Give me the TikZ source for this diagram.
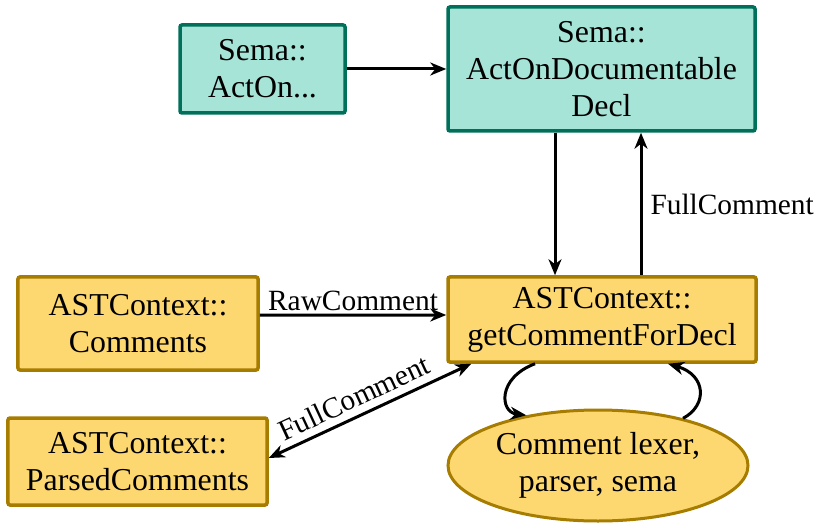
\documentclass[tikz,border=0pt]{standalone}
\usepackage{fontspec}
\setmainfont{Liberation Serif}
\usetikzlibrary{arrows.meta,shapes.geometric}
\definecolor{semafill}{RGB}{166,228,215}
\definecolor{semaedge}{RGB}{0,112,90}
\definecolor{astfill}{RGB}{253,216,112}
\definecolor{astedge}{RGB}{166,125,0}
\tikzset{
  boxtext/.style={font=\fontsize{32}{37}\selectfont, align=center, inner sep=0pt},
  semabox/.style={boxtext, draw=semaedge, fill=semafill, line width=3.5bp, rounded corners=2bp},
  astbox/.style={boxtext, draw=astedge, fill=astfill, line width=3.5bp, rounded corners=2bp},
  astell/.style={boxtext, ellipse, draw=astedge, fill=astfill, line width=3bp},
  tip/.style={Stealth[length=16bp,width=13bp,inset=5bp]},
  arr/.style={line width=3bp, -{Stealth[length=16bp,width=13bp,inset=5bp]}},
  biarr/.style={line width=3bp, {Stealth[length=16bp,width=13bp,inset=5bp]}-{Stealth[length=16bp,width=13bp,inset=5bp]}},
  lbl/.style={font=\fontsize{29.5}{34}\selectfont, inner sep=2bp}
}
\begin{document}
\begin{tikzpicture}[x=1bp,y=-1bp]
\useasboundingbox (0,0) rectangle (825,523);

% Sema side
\node[semabox, minimum width=165bp, minimum height=88bp] (act) at (262.5,69) {Sema::\\ActOn...};
\node[semabox, minimum width=307bp, minimum height=124bp] (actdoc) at (601.5,69) {Sema::\\ActOnDocumentable\\Decl};

% ASTContext side
\node[astbox, minimum width=240bp, minimum height=93bp] (comments) at (138,323.5) {ASTContext::\\Comments};
\node[astbox, minimum width=308bp, minimum height=85bp] (getc) at (602,319.5) {ASTContext::\\getCommentForDecl};
\node[astbox, minimum width=259bp, minimum height=87bp] (parsed) at (137.5,461.5) {ASTContext::\\ParsedComments};
\node[astell, minimum width=300bp, minimum height=111bp] (lexer) at (598,465.5) {Comment lexer,\\parser, sema};

% Connectors
\draw[arr] (act.east) -- (actdoc.west |- act.east);
\draw[arr] ([xshift=-46.5bp]actdoc.south) -- ([xshift=-47bp]getc.north);
\draw[arr] ([xshift=39bp]getc.north) -- ([xshift=39.5bp]actdoc.south)
  node[lbl, pos=0.5, anchor=west, xshift=6bp] (fc1) {FullComment};
\draw[arr] ([yshift=8.5bp]comments.east) -- ([yshift=4.5bp]getc.west)
  node[lbl, midway, above, yshift=1bp] (raw) {RawComment};
\draw[biarr] ([yshift=3.5bp]parsed.east) -- ([xshift=25bp]getc.south west)
  node[lbl, pos=0.46, above=5bp, sloped] (fc2) {FullComment};

% Round trip through the comment machinery
\draw[arr] ([xshift=-67bp]getc.south) .. controls (497,378) and (500,412) .. (lexer.145);
\draw[arr] (lexer.29) .. controls (708,405) and (706,375) .. ([xshift=66bp]getc.south);
\end{tikzpicture}
\end{document}
